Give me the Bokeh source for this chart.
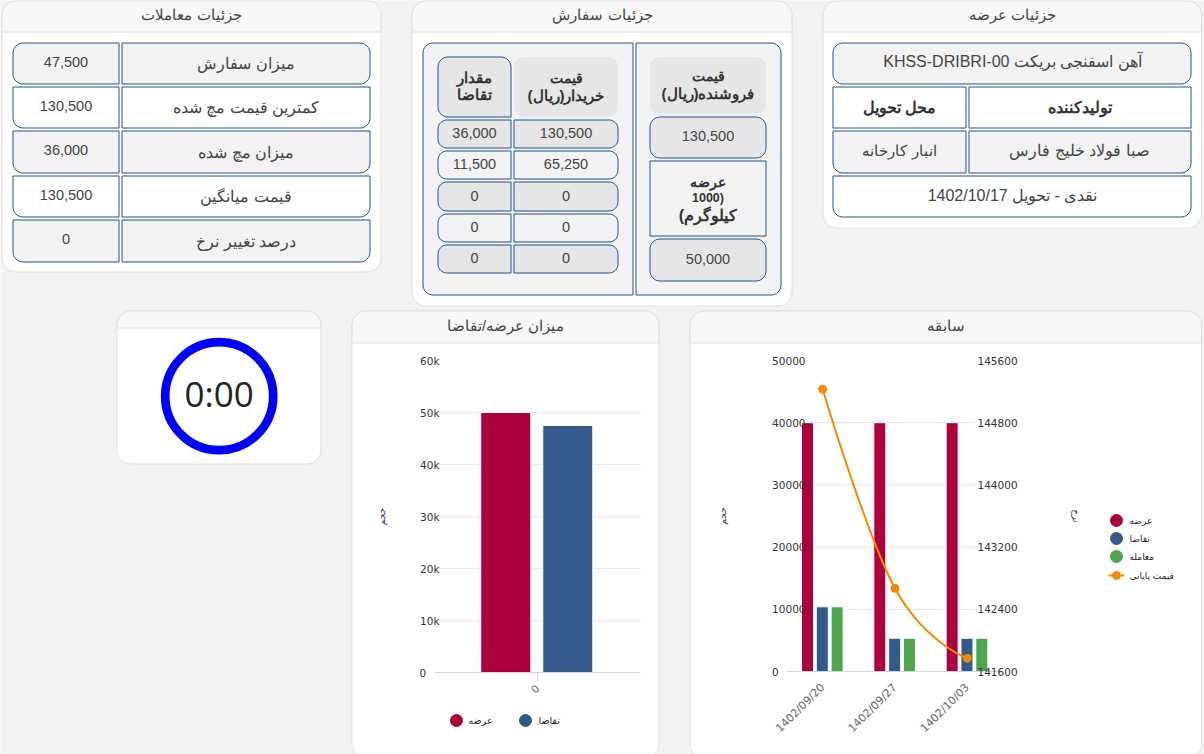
import math
from bokeh.core.properties import value
from bokeh.embed import file_html
from bokeh.resources import INLINE
from bokeh.plotting import figure
from bokeh.layouts import column
from bokeh.models import Range1d, LinearAxis, FixedTicker, BasicTickFormatter, BoxAnnotation, ColumnDataSource

# ---------- data ----------
card_titles = ["جزئیات معاملات", "جزئیات سفارش", "جزئیات عرضه", "سابقه", "میزان عرضه/تقاضا"]
trade_labels = ["میزان سفارش", "کمترین قیمت مچ شده", "میزان مچ شده", "قیمت میانگین", "درصد تغییر نرخ"]
trade_values = ["47,500", "130,500", "36,000", "130,500", "0"]
buy_prices = ["130,500", "65,250", "0", "0", "0"]
buy_qty = ["36,000", "11,500", "0", "0", "0"]
sell_price = "130,500"
sell_qty = "50,000"
supply_name = "آهن اسفنجی بریکت KHSS-DRIBRI-00"
supply_heads = ["تولیدکننده", "محل تحویل"]
supply_vals = ["صبا فولاد خلیج فارس", "انبار کارخانه"]
supply_terms = "نقدی - تحویل 1402/10/17"
timer_text = "0:00"

dates = ["1402/09/20", "1402/09/27", "1402/10/03"]
supply_vol = [40000, 40000, 40000]
demand_vol = [10400, 5350, 5350]
deal_vol = [10400, 5350, 5350]
close_price = [145230, 142670, 141770]
vol_ticks = [0, 10000, 20000, 30000, 40000, 50000]
price_ticks = [141600, 142400, 143200, 144000, 144800, 145600]
series_names = ["عرضه", "تقاضا", "معامله", "قیمت پایانی"]

sd_category = ["0"]
sd_supply = [50000]
sd_demand = [47500]
sd_ticks = [0, 10000, 20000, 30000, 40000, 50000, 60000]
sd_tick_labels = ["0", "10k", "20k", "30k", "40k", "50k", "60k"]
axis_title_vol = "حجم"
axis_title_price = "نرخ"

# ---------- styles ----------
FONT = "Liberation Sans"
AFONT = "DejaVu Sans"
PAGE = "#f2f2f2"; EDGE = "#dfdfdf"; HEAD = "#f7f7f7"; BLUE = "#23528f"
G1 = "#f2f2f2"; G2 = "#e6e6e6"; INK = "#333333"; SOFT = "#444444"
RED = "#ad003f"; NAVY = "#34598d"; GREEN = "#4ca64c"; ORANGE = "#f58a00"
GRID = "#e6e6e6"; AXIS = "#ccd6eb"
PAD = "\u2007"


def rtl(s):
    return "\u202b" + s + "\u202c"


def rr(x0, y0, x1, y1, tl=0, tr=0, br=0, bl=0):
    xs, ys = [], []
    def arc(cx, cy, r, a0):
        if r == 0:
            xs.append(cx); ys.append(cy); return
        for i in range(9):
            a = math.radians(a0 + i * 90 / 8)
            xs.append(cx + r * math.cos(a)); ys.append(cy + r * math.sin(a))
    arc(x0 + tl, y0 + tl, tl, 180)
    arc(x1 - tr, y0 + tr, tr, 270)
    arc(x1 - br, y1 - br, br, 0)
    arc(x0 + bl, y1 - bl, bl, 90)
    return xs, ys


bg = figure(width=1204, height=754, x_range=Range1d(0, 1204), y_range=Range1d(754, 0),
            toolbar_location=None, output_backend="svg", min_border=0, frame_align=False,
            background_fill_color=PAGE, border_fill_color=PAGE, outline_line_color=None)
bg.xaxis.visible = False
bg.yaxis.visible = False
bg.grid.visible = False


def shape(x0, y0, x1, y1, fill, line=BLUE, **rad):
    xs, ys = rr(x0, y0, x1, y1, **rad)
    bg.patch(xs, ys, fill_color=fill, line_color=line, line_width=1)


def label(x, y, s, size=15, color=INK, bold=False, font=FONT, align="center"):
    bg.text([x], [y], text=[s], text_align=align, text_baseline="middle", text_color=color,
            text_font=value(font), text_font_size=f"{size}px", text_font_style="bold" if bold else "normal")


def card(x0, y0, x1, y1, head_y, title=None, title_x=None):
    R = 14
    shape(x0, y0, x1, y1, "#ffffff", line=EDGE, tl=R, tr=R, br=R, bl=R)
    shape(x0, y0, x1, head_y, HEAD, line=EDGE, tl=R, tr=R)
    if title:
        label(title_x, (y0 + head_y) / 2 - 1.5, title, size=14.5, color=SOFT)


# ---------- top cards ----------
card(1.5, 0.5, 380.5, 271.5, 31.5, card_titles[0], 191)
card(411.5, 0.5, 791.5, 305.5, 31.5, card_titles[1], 602)
card(822.5, 0.5, 1201, 227.5, 31.5, card_titles[2], 1012)

# trades table
rows = [(42.5, 83.5), (86.5, 127.5), (130.5, 172.5), (175.5, 216.5), (219.5, 261.5)]
for i, (y0, y1) in enumerate(rows):
    f = G1 if i % 2 == 0 else "#ffffff"
    tl = 10 if i == 0 else 0
    shape(12.5, y0, 118.5, y1, f, tl=tl, bl=10)
    shape(121.5, y0, 369.5, y1, f, tr=tl, br=10)
    label(65.5, (y0 + y1) / 2 - 2, trade_values[i], size=14.5, color=SOFT)
    label(245.5, (y0 + y1) / 2, trade_labels[i], size=16, color=SOFT)

# order panels
shape(422.5, 42.5, 632.5, 294.5, G1, tl=10, bl=10)
shape(635.5, 42.5, 780.5, 294.5, G1, tr=10, br=10)
shape(513.5, 56.5, 617.5, 116.5, G2, line=None, tl=10, tr=10, br=10, bl=10)
shape(437.5, 56.5, 510.5, 116.5, G2, tl=10, tr=10, bl=10)
label(474, 77, "مقدار", size=15, bold=True)
label(474, 94, "تقاضا", size=15, bold=True)
label(565.5, 77, "قیمت", size=14, bold=True)
label(565.5, 95, rtl("خریدار(ریال)"), size=15, bold=True)
order_rows = [(119.5, 147.5), (150.5, 178.5), (181.5, 210.5), (213.5, 241.5), (244.5, 272.5)]
for i, (y0, y1) in enumerate(order_rows):
    f = G2 if i % 2 == 0 else G1
    shape(437.5, y0, 510.5, y1, f, tl=9, bl=9)
    shape(513.5, y0, 617.5, y1, f, tr=9, br=9)
    label(474, (y0 + y1) / 2 - 1, buy_qty[i], size=14.5, color=SOFT)
    label(565.5, (y0 + y1) / 2 - 1, buy_prices[i], size=14.5, color=SOFT)
shape(649.5, 56.5, 765.5, 113.5, G2, line=None, tl=10, tr=10, br=10, bl=10)
label(707.5, 75, "قیمت", size=14, bold=True)
label(707.5, 93, rtl("فروشنده(ریال)"), size=15, bold=True)
shape(649.5, 116.5, 765.5, 157.5, G2, tl=10, tr=10, br=10, bl=10)
label(707.5, 135, sell_price, size=14.5, color=SOFT)
shape(649.5, 160.5, 765.5, 235.5, G1)
label(707.5, 181, "عرضه", size=14, bold=True)
label(707.5, 197, rtl("(1000"), size=12.5, bold=True)
label(707.5, 215, rtl("کیلوگرم)"), size=16, bold=True)
shape(649.5, 238.5, 765.5, 280.5, G2, tl=10, tr=10, br=10, bl=10)
label(707.5, 258, sell_qty, size=14.5, color=SOFT)

# supply table
shape(832.5, 42.5, 1190.5, 83.5, G1, tl=10, tr=10, br=10, bl=10)
label(1012, 61, rtl(supply_name), size=16, color=SOFT)
shape(832.5, 86.5, 965.5, 127.5, "#ffffff")
shape(968.5, 86.5, 1190.5, 127.5, "#ffffff")
label(1079, 107, supply_heads[0], size=16, bold=True)
label(899, 107, supply_heads[1], size=15.5, bold=True)
shape(832.5, 130.5, 965.5, 172.5, G1, bl=10)
shape(968.5, 130.5, 1190.5, 172.5, G1, br=10)
label(1079, 150, supply_vals[0], size=16, color=SOFT)
label(899, 150, supply_vals[1], size=15, color=SOFT)
shape(832.5, 175.5, 1190.5, 216.5, "#ffffff", bl=10, br=10)
label(1012, 195, supply_terms, size=16, color=SOFT)

# ---------- lower cards ----------
card(116.5, 310.5, 320.5, 463.5, 327.5)
card(351.5, 310.5, 658.5, 758, 342.5, card_titles[4], 505)
card(689.5, 310.5, 1201, 758, 342.5, card_titles[3], 945)

bg.circle([218.7], [395.7], radius=54, fill_color=None, line_color="#0000ff", line_width=8.7)
label(218.7, 392.5, timer_text, size=35, color="#212529", font="Open Sans")

# legends
bg.scatter([456, 525], [720, 720], size=12, color=[RED, NAVY])
label(468, 720, series_names[0], size=9.5, font=AFONT, align="left", color="#222222")
label(538, 720, series_names[1], size=9.5, font=AFONT, align="left", color="#222222")
bg.scatter([1116, 1116, 1116], [520, 538, 556], size=12, color=[RED, NAVY, GREEN])
bg.line([1108, 1124], [575, 575], line_color=ORANGE, line_width=2)
bg.scatter([1116], [575], size=8, color=ORANGE)
for ly, nm in zip([520, 538, 556, 575], series_names):
    label(1129, ly, nm, size=9, font=AFONT, align="left", color="#222222")


# ---------- charts ----------
def style_axis(ax):
    ax.axis_line_color = None
    ax.major_tick_line_color = None
    ax.minor_tick_line_color = None
    ax.major_label_text_font = AFONT
    ax.major_label_text_font_size = "10.5px"
    ax.major_label_text_color = INK
    ax.major_tick_out = 0
    ax.major_tick_in = 0
    ax.axis_label_text_font = AFONT
    ax.axis_label_text_font_size = "9px"
    ax.axis_label_text_font_style = "normal"
    ax.axis_label_text_color = INK


# history chart
n = len(dates)
pos = list(range(n))
hist = figure(width=511, height=410, x_range=Range1d(-0.5, n - 0.5), y_range=Range1d(0, vol_ticks[-1]),
              toolbar_location=None, output_backend="svg", min_border_left=96, min_border_right=198,
              min_border_top=16, min_border_bottom=83, frame_align=False,
              background_fill_color=None, border_fill_color=None, outline_line_color=None)
hist.extra_y_ranges = {"price": Range1d(price_ticks[0], price_ticks[-1])}
hist.xgrid.visible = False
hist.ygrid.grid_line_color = GRID
hist.ygrid.ticker = FixedTicker(ticks=vol_ticks)
hist.yaxis.ticker = FixedTicker(ticks=vol_ticks)
hist.yaxis.formatter = BasicTickFormatter(use_scientific=False)
hist.yaxis.major_label_overrides = {0: "0" + PAD * 4}
style_axis(hist.yaxis[0])
hist.yaxis.major_label_standoff = -19
hist.yaxis.axis_label = axis_title_vol
hist.yaxis.axis_label_standoff = 41

right = LinearAxis(y_range_name="price", ticker=FixedTicker(ticks=price_ticks),
                   formatter=BasicTickFormatter(use_scientific=False))
style_axis(right)
right.major_label_standoff = -26
right.axis_label = axis_title_price
right.axis_label_standoff = 50
hist.add_layout(right, "right")

xa = hist.xaxis[0]
xa.ticker = FixedTicker(ticks=pos)
xa.major_label_overrides = {p: d for p, d in zip(pos, dates)}
xa.major_label_orientation = math.pi / 4
xa.axis_line_color = AXIS
xa.major_tick_line_color = None
xa.minor_tick_line_color = None
xa.major_label_text_font = AFONT
xa.major_label_text_font_size = "11px"
xa.major_label_text_color = "#666666"
xa.major_label_standoff = 8

hist.add_layout(BoxAnnotation(left=-0.5, right=-0.24, fill_color="#ffffff", fill_alpha=1, line_color=None, level="underlay"))
hist.add_layout(BoxAnnotation(left=2.14, right=2.5, fill_color="#ffffff", fill_alpha=1, line_color=None, level="underlay"))

W = 0.166
for off, vals, col in [(-0.21, supply_vol, RED), (-0.005, demand_vol, NAVY), (0.2, deal_vol, GREEN)]:
    hist.vbar(x=[p + off for p in pos], top=vals, width=W, bottom=0, fill_color=col, line_color="#ffffff", line_width=1)


# smooth curve through the closing prices (spline control points derived from the data)
def spline(xs, ys, s=1.5):
    lc, rc = [], []
    for i in range(len(xs)):
        if i == 0 or i == len(xs) - 1:
            lc.append((xs[i], ys[i])); rc.append((xs[i], ys[i])); continue
        lx = (s * xs[i] + xs[i - 1]) / (s + 1); ly = (s * ys[i] + ys[i - 1]) / (s + 1)
        rx = (s * xs[i] + xs[i + 1]) / (s + 1); ry = (s * ys[i] + ys[i + 1]) / (s + 1)
        c = (ry - ly) * (rx - xs[i]) / (rx - lx) + ys[i] - ry
        lc.append((lx, ly + c)); rc.append((rx, ry + c))
    d = dict(x0=xs[:-1], y0=ys[:-1], x1=xs[1:], y1=ys[1:],
             cx0=[c[0] for c in rc[:-1]], cy0=[c[1] for c in rc[:-1]],
             cx1=[c[0] for c in lc[1:]], cy1=[c[1] for c in lc[1:]])
    return ColumnDataSource(d)


hist.bezier(x0="x0", y0="y0", x1="x1", y1="y1", cx0="cx0", cy0="cy0", cx1="cx1", cy1="cy1",
            source=spline(pos, close_price), line_color=ORANGE, line_width=2, y_range_name="price")
hist.scatter(pos, close_price, size=8, color=ORANGE, y_range_name="price")

# supply / demand chart
sd = figure(width=307, height=410, x_range=Range1d(-0.5, 0.5), y_range=Range1d(sd_ticks[0], sd_ticks[-1]),
            toolbar_location=None, output_backend="svg", min_border_left=83, min_border_right=18,
            min_border_top=16, min_border_bottom=82, frame_align=False,
            background_fill_color=None, border_fill_color=None, outline_line_color=None)
sd.xgrid.visible = False
sd.ygrid.grid_line_color = GRID
sd.ygrid.ticker = FixedTicker(ticks=sd_ticks)
sd.yaxis.ticker = FixedTicker(ticks=sd_ticks)
sd.yaxis.major_label_overrides = {t: (l if t else l + PAD * 2) for t, l in zip(sd_ticks, sd_tick_labels)}
style_axis(sd.yaxis[0])
sd.yaxis.major_label_standoff = -5
sd.yaxis.axis_label = axis_title_vol
sd.yaxis.axis_label_standoff = 29

sx = sd.xaxis[0]
sx.ticker = FixedTicker(ticks=[0])
sx.major_label_overrides = {0: sd_category[0]}
sx.major_label_orientation = math.pi / 4
sx.axis_line_color = AXIS
sx.major_tick_line_color = AXIS
sx.major_tick_out = 10
sx.major_tick_in = 0
sx.minor_tick_line_color = None
sx.major_label_text_font = AFONT
sx.major_label_text_font_size = "10.5px"
sx.major_label_text_color = "#666666"
sx.major_label_standoff = 4

sd.add_layout(BoxAnnotation(left=-0.5, right=-0.476, fill_color="#ffffff", fill_alpha=1, line_color=None, level="underlay"))
BW = 50 / 206
sd.vbar(x=[-0.154], top=sd_supply, width=BW, bottom=0, fill_color=RED, line_color="#ffffff", line_width=1)
sd.vbar(x=[0.147], top=sd_demand, width=BW, bottom=0, fill_color=NAVY, line_color="#ffffff", line_width=1)


def place(fig, x, y):
    fig.styles = {"position": "absolute", "left": f"{x}px", "top": f"{y}px"}


place(bg, 0, 0)
place(hist, 690, 344)
place(sd, 351, 344)

root = column(bg, sd, hist, width=1204, height=754,
              styles={"position": "absolute", "left": "0px", "top": "0px"})
open("out.html", "w").write(file_html(root, INLINE))
